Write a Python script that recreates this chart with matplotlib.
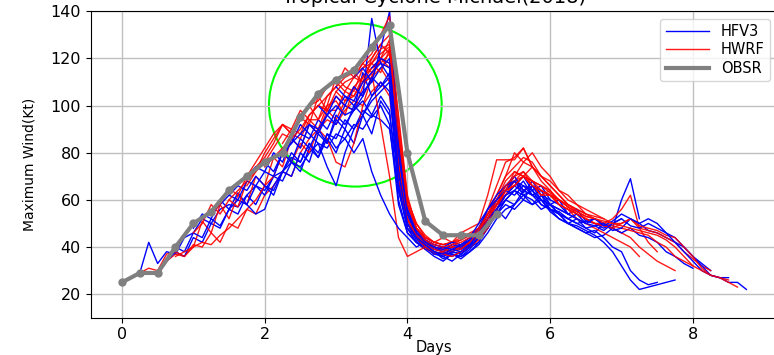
import numpy as np
import matplotlib
matplotlib.use("Agg")
import matplotlib.pyplot as plt
from matplotlib.patches import Ellipse

# observed best track, 6-hourly
obs_days = [0, 0.25, 0.5, 0.75, 1.0, 1.25, 1.5, 1.75, 2.0, 2.25, 2.5, 2.75,
            3.0, 3.25, 3.5, 3.75, 4.0, 4.25, 4.5, 4.75, 5.0, 5.25]
obs_wind = [25, 29, 29, 40, 50, 55, 64, 70, 76, 80, 95, 105,
            111, 115, 125, 134, 80, 51, 45, 45, 45, 54]

# forecast start (days) and 3-hourly max wind of each cycle
hfv3_start = [0.25, 0.5, 0.75, 1.0, 1.25, 1.5, 1.75, 2.0, 2.25, 2.5, 2.75, 3.0, 3.25, 3.5]
hfv3 = [
    [29, 42, 33, 38, 37, 44, 46, 52, 50, 56, 58, 57, 62, 66, 64, 70, 72, 76, 74, 80, 84, 82,
     88, 86, 92, 90, 96, 94, 90, 64, 50, 44, 41, 39, 38, 37, 36, 38, 41, 46, 52, 56, 58],
    [30, 34, 38, 36, 44, 42, 50, 48, 56, 54, 62, 58, 66, 64, 72, 78, 76, 84, 80, 88, 86, 94,
     90, 98, 95, 100, 92, 58, 46, 42, 40, 37, 38, 36, 38, 40, 44, 48, 54, 60, 58, 64, 62],
    [40, 38, 46, 44, 52, 49, 56, 60, 58, 66, 62, 70, 68, 76, 72, 82, 78, 86, 80, 90, 84, 96,
     88, 102, 96, 70, 52, 44, 40, 38, 36, 38, 37, 40, 42, 50, 56, 62, 66, 63, 68, 62, 60],
    [48, 54, 52, 60, 56, 63, 58, 54, 56, 66, 72, 70, 80, 76, 88, 84, 94, 90, 100, 96, 104, 110,
     106, 68, 50, 43, 40, 38, 35, 37, 36, 39, 44, 52, 58, 64, 68, 66, 62, 64, 58, 56, 54],
    [54, 58, 62, 60, 68, 66, 72, 70, 80, 76, 86, 82, 90, 84, 96, 92, 98, 102, 96, 104, 98, 60,
     46, 42, 39, 36, 34, 37, 35, 38, 42, 48, 54, 60, 64, 60, 66, 62, 58, 60, 54, 52, 50],
    [62, 66, 64, 70, 66, 62, 72, 80, 76, 84, 78, 88, 82, 86, 80, 86, 72, 62, 54, 48, 44, 40,
     42, 39, 40, 38, 41, 40, 46, 50, 56, 52, 58, 62, 60, 56, 58, 54, 50, 52, 48, 46, 50],
    [70, 74, 72, 80, 76, 86, 82, 92, 88, 96, 92, 100, 98, 114, 104, 108, 112, 74, 54, 46, 42, 40,
     38, 40, 39, 42, 46, 54, 58, 62, 66, 70, 64, 66, 60, 58, 54, 56, 51, 50, 48, 50, 52],
    [76, 72, 80, 84, 92, 88, 84, 74, 66, 80, 90, 96, 102, 106, 110, 66, 48, 42, 40, 37, 36, 38,
     37, 40, 44, 50, 54, 58, 56, 60, 58, 62, 56, 54, 50, 48, 46, 44, 45, 48, 60, 69, 52],
    [80, 84, 88, 86, 94, 90, 98, 104, 100, 106, 110, 116, 120, 80, 56, 46, 42, 40, 38, 40, 39, 41,
     46, 52, 58, 64, 68, 62, 64, 58, 56, 52, 50, 48, 46, 47, 44, 40, 38, 30, 26, 24, 25],
    [88, 92, 90, 96, 100, 96, 98, 104, 137, 118, 112, 64, 48, 44, 41, 38, 36, 34, 37, 40, 44, 50,
     56, 60, 64, 62, 58, 60, 55, 52, 50, 49, 47, 45, 42, 38, 32, 26, 22, 23, 24, 25, 26],
    [100, 96, 104, 100, 108, 104, 112, 108, 114, 78, 54, 45, 42, 40, 39, 41, 40, 43, 48, 54, 60, 66,
     70, 64, 66, 60, 58, 54, 52, 50, 51, 52, 50, 48, 46, 48, 45, 44, 42, 38, 36, 33, 31],
    [108, 104, 102, 110, 114, 118, 116, 72, 50, 44, 41, 38, 37, 39, 38, 41, 46, 52, 56, 62, 64, 68,
     62, 60, 56, 55, 52, 54, 50, 49, 50, 47, 48, 52, 50, 47, 46, 44, 42, 40, 36, 33, 30],
    [112, 116, 110, 124, 140, 84, 56, 47, 43, 41, 40, 39, 41, 43, 48, 56, 62, 66, 68, 64, 62, 58,
     56, 54, 52, 50, 48, 49, 47, 50, 52, 49, 48, 50, 48, 46, 44, 40, 36, 32, 28, 27, 27],
    [116, 120, 118, 80, 54, 46, 43, 41, 40, 42, 41, 44, 50, 56, 60, 64, 62, 66, 64, 60, 58, 56,
     54, 52, 50, 52, 49, 51, 54, 52, 50, 52, 50, 46, 42, 38, 34, 30, 28, 27, 25, 25, 22],
]

hwrf_start = [0.25, 0.5, 0.75, 1.0, 1.25, 1.5, 1.75, 2.0, 2.25, 2.5, 2.75, 3.0, 3.25, 3.5]
hwrf = [
    [29, 31, 30, 34, 37, 36, 41, 40, 46, 42, 50, 48, 56, 54, 62, 66, 72, 70, 80, 86, 90, 94,
     92, 98, 102, 100, 106, 110, 104, 72, 52, 45, 42, 40, 39, 38, 40, 41, 44, 48, 56, 62, 66],
    [30, 37, 38, 36, 40, 51, 46, 58, 52, 62, 58, 70, 66, 78, 74, 86, 82, 92, 88, 98, 94, 102,
     108, 104, 112, 116, 110, 66, 48, 42, 39, 38, 37, 39, 38, 40, 44, 52, 60, 68, 72, 70, 74],
    [36, 38, 40, 42, 41, 45, 48, 52, 56, 60, 66, 70, 80, 76, 84, 80, 90, 86, 76, 74, 84, 100,
     112, 120, 124, 96, 62, 48, 43, 40, 38, 40, 39, 42, 46, 56, 66, 76, 78, 82, 74, 68, 64],
    [46, 50, 58, 54, 60, 57, 68, 74, 78, 84, 92, 88, 96, 100, 94, 104, 108, 116, 112, 118, 114, 120,
     116, 70, 50, 44, 40, 38, 37, 39, 40, 42, 45, 52, 60, 64, 68, 72, 66, 64, 62, 60, 57],
    [54, 58, 65, 62, 70, 76, 82, 88, 92, 90, 88, 96, 100, 98, 104, 100, 98, 108, 114, 92, 70, 44,
     36, 38, 40, 37, 38, 41, 43, 45, 48, 56, 62, 70, 74, 78, 76, 70, 66, 62, 58, 56, 54],
    [60, 64, 68, 72, 80, 86, 92, 88, 86, 94, 90, 100, 112, 108, 106, 116, 120, 126, 122, 84, 58, 48,
     44, 42, 44, 42, 46, 48, 50, 62, 77, 77, 77, 82, 74, 70, 68, 64, 62, 58, 56, 54, 52],
    [66, 72, 76, 82, 88, 86, 95, 92, 104, 98, 98, 106, 112, 110, 120, 126, 130, 86, 56, 46, 42, 40,
     39, 38, 40, 42, 44, 50, 58, 64, 70, 76, 80, 74, 70, 64, 60, 58, 54, 52, 50, 48, 46],
    [74, 78, 82, 86, 90, 96, 100, 98, 106, 102, 104, 112, 116, 118, 122, 78, 52, 44, 40, 38, 37, 36,
     38, 40, 43, 48, 56, 62, 68, 70, 66, 62, 64, 58, 56, 52, 50, 48, 46, 44, 42, 40, 36],
    [84, 90, 98, 94, 94, 100, 102, 96, 108, 112, 118, 114, 124, 90, 60, 50, 45, 42, 41, 42, 40, 43,
     45, 52, 58, 66, 68, 64, 66, 62, 62, 58, 56, 54, 52, 50, 50, 52, 56, 62, 48, 42, 38],
    [96, 100, 102, 108, 110, 106, 104, 110, 112, 120, 128, 82, 54, 46, 42, 40, 39, 40, 41, 42, 45, 50,
     56, 64, 72, 70, 68, 66, 63, 60, 57, 54, 52, 50, 49, 48, 46, 44, 40, 37, 34, 32, 30],
    [100, 104, 108, 112, 114, 110, 116, 120, 118, 76, 52, 45, 41, 39, 38, 40, 39, 42, 46, 54, 62, 70,
     80, 76, 74, 70, 66, 62, 58, 55, 53, 52, 50, 49, 48, 47, 46, 45, 42, 40, 36, 34, 32],
    [106, 110, 112, 116, 118, 122, 125, 86, 58, 48, 44, 42, 41, 42, 44, 46, 48, 54, 58, 64, 66, 70,
     68, 64, 62, 58, 56, 54, 52, 50, 49, 48, 50, 52, 48, 47, 46, 44, 42, 38, 35, 32, 30],
    [112, 118, 122, 130, 138, 94, 60, 50, 44, 42, 41, 42, 43, 45, 48, 54, 60, 66, 70, 72, 68, 66,
     64, 60, 58, 56, 54, 53, 52, 50, 50, 52, 49, 48, 47, 45, 44, 40, 36, 31, 28, 27, 26],
    [118, 124, 126, 88, 58, 48, 43, 41, 40, 41, 42, 44, 47, 52, 58, 64, 66, 70, 66, 64, 62, 60,
     57, 55, 53, 52, 51, 50, 49, 48, 47, 46, 45, 43, 40, 36, 32, 30, 28, 27, 25, 23],
]

fig = plt.figure(figsize=(7.74, 3.55), dpi=100)
ax = fig.add_axes([0.117, 0.105, 0.887, 0.863])

for k in range(len(hfv3)):
    xb = hfv3_start[k] + 0.125 * np.arange(len(hfv3[k]))
    ax.plot(xb, hfv3[k], color="blue", lw=1.0, label="HFV3" if k == 0 else None)
    xr = hwrf_start[k] + 0.125 * np.arange(len(hwrf[k]))
    ax.plot(xr, hwrf[k], color="red", lw=1.0, alpha=0.9, label="HWRF" if k == 0 else None)

ax.plot(obs_days, obs_wind, color="gray", lw=3, label="OBSR")
ax.plot(obs_days, obs_wind, "o", color="gray", ms=5)

ax.add_patch(Ellipse((3.27, 100.3), 2.42, 69.3, fill=False, color="lime", lw=1.5))

ax.set_xlim(-0.44, 9.18)
ax.set_ylim(10, 140)
ax.set_xticks([0, 2, 4, 6, 8])
ax.set_yticks([20, 40, 60, 80, 100, 120, 140])
ax.tick_params(labelsize=11.5)
ax.grid(True, color="#c0c0c0", lw=1.0)

ax.set_title("Tropical Cyclone Michael(2018)", fontsize=14)
ax.set_xlabel("Days", fontsize=10.5)
ax.xaxis.set_label_coords(0.5, -0.072)
ax.set_ylabel("Maximum Wind(Kt)", fontsize=10, labelpad=10)
ax.legend(loc="upper right", fontsize=10.5, handlelength=3.0,
          labelspacing=0.25, borderpad=0.35)

fig.savefig("out.png", dpi=100)
